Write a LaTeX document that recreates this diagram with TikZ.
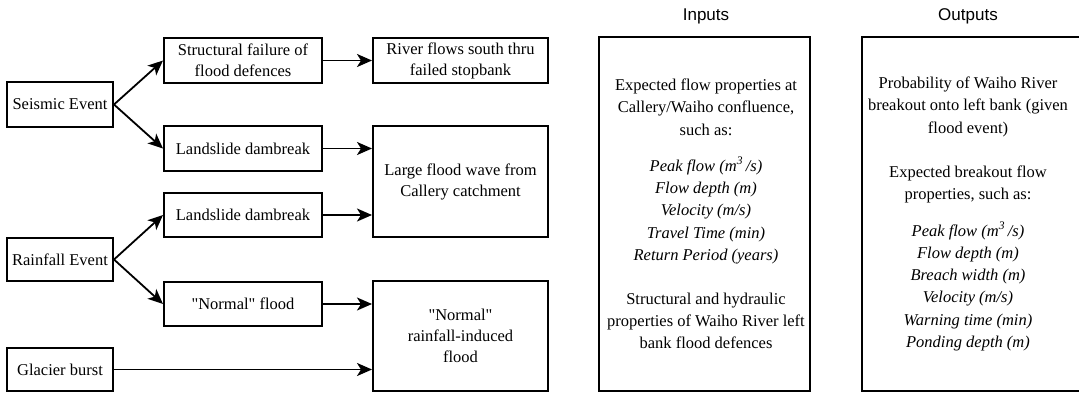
\documentclass[tikz,border=0pt]{standalone}
\usepackage{fontspec}
\setmainfont{Liberation Serif}
\newfontfamily\headfont{Liberation Sans}
\usetikzlibrary{arrows.meta}

\begin{document}
\begin{tikzpicture}[x=1pt,y=-1pt,>={Stealth[length=15pt,width=13pt,inset=4pt]},
    box/.style={draw,line width=2pt,inner sep=0pt,align=center,minimum width=158pt,minimum height=45pt,font=\fontsize{16.5}{21}\selectfont},
    srcbox/.style={box,minimum width=106pt},
    bigbox/.style={box,minimum width=175pt},
    panel/.style={draw,line width=1.6pt,inner sep=0pt,minimum height=354pt},
    paneltext/.style={align=center,inner sep=0pt,font=\fontsize{16.5}{22.3}\selectfont},
    head/.style={font=\headfont\fontsize{17}{20}\selectfont},
    flowarrow/.style={->,line width=1.8pt}]
            % fix the frame
            \useasboundingbox (0,0) rectangle (1079,392);
            \clip (0,0) rectangle (1079,392);

            % draw the triggering events
            \node[srcbox] (seismic) at (60,104.5) {Seismic Event};
            \node[srcbox,minimum height=43pt] (rain) at (60,259.5) {Rainfall Event};
            \node[srcbox,minimum height=43pt] (glacier) at (60,369.5) {Glacier burst};

            % draw the middle steps
            \node[box] (failure) at (243,60.5) {Structural failure of\\flood defences};
            \node[box] (slideA) at (243,148.5) {Landslide dambreak};
            \node[box,minimum height=44pt] (slideB) at (243,215) {Landslide dambreak};
            \node[box,minimum height=44pt] (normal) at (243,304) {\textquotedbl Normal\textquotedbl{} flood};

            % draw the flood scenarios
            \node[bigbox] (river) at (460.5,60.5) {River flows south thru\\failed stopbank};
            \node[bigbox,minimum height=111pt] (wave) at (460.5,181.5) {Large flood wave from\\Callery catchment};
            \node[bigbox,minimum height=110pt] (rainflood) at (460.5,336) {\textquotedbl Normal\textquotedbl\\rainfall-induced\\flood};

            % connect them
            \draw[flowarrow] (seismic.east) -- (failure.west);
            \draw[flowarrow] (seismic.east) -- (slideA.west);
            \draw[flowarrow] (rain.east) -- (slideB.west);
            \draw[flowarrow] (rain.east) -- (normal.west);
            \draw[flowarrow] (failure.east) -- (river.west);
            \draw[flowarrow] (slideA.east) -- (slideA.east -| wave.west);
            \draw[flowarrow] (slideB.east) -- (slideB.east -| wave.west);
            \draw[flowarrow] (normal.east) -- (normal.east -| rainflood.west);
            \draw[flowarrow] (glacier.east) -- (glacier.east -| rainflood.west);

            % inputs
            \node[head] (inhead) at (706,16) {Inputs};
            \node[panel,minimum width=211pt] (inputs) at (704.5,214) {};
            \node[paneltext] (intext) at (706,214) {Expected flow properties at\\Callery/Waiho confluence,\\such as:\\[13.7pt]
                \itshape Peak flow (m\textsuperscript{3}\,/s)\\\itshape Flow depth (m)\\\itshape Velocity (m/s)\\\itshape Travel Time (min)\\\itshape Return Period (years)\\[21.7pt]
                Structural and hydraulic\\properties of Waiho River left\\bank flood defences};

            % outputs
            \node[head] (outhead) at (968,16) {Outputs};
            \node[panel,minimum width=228pt] (outputs) at (976,214) {};
            \node[paneltext] (outtext) at (968,214) {Probability of Waiho River\\breakout onto left bank (given\\flood event)\\[22pt]
                Expected breakout flow\\properties, such as:\\[14pt]
                \itshape Peak flow (m\textsuperscript{3}\,/s)\\\itshape Flow depth (m)\\\itshape Breach width (m)\\\itshape Velocity (m/s)\\\itshape Warning time (min)\\\itshape Ponding depth (m)};

        \end{tikzpicture}
\end{document}
